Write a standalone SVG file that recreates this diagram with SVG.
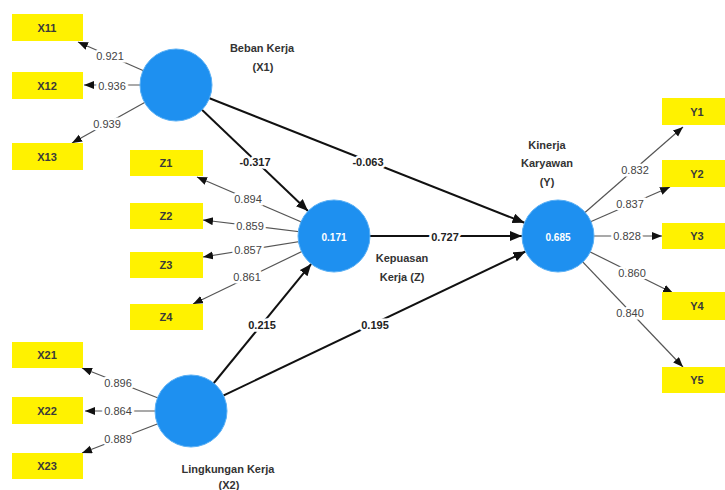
<svg xmlns="http://www.w3.org/2000/svg" width="725" height="490" viewBox="0 0 725 490">
<style>
text{font-family:"Liberation Sans",Arial,sans-serif;}
.box{fill:#FFF200;}
.bt{font-size:11px;font-weight:bold;fill:#3a3a3a;text-anchor:middle;dominant-baseline:central;}
.lv{fill:#1E90F0;stroke:#5AB0F5;stroke-width:1;}
.lvt{font-size:10px;font-weight:bold;fill:#fff;text-anchor:middle;dominant-baseline:central;}
.hd{font-size:11px;font-weight:bold;fill:#333;text-anchor:middle;}
.ld{stroke:#555;stroke-width:1.2;fill:none;}
.st{stroke:#111;stroke-width:2;fill:none;}
.ll{font-size:11px;fill:#444;text-anchor:middle;dominant-baseline:central;stroke:#fff;stroke-width:5;paint-order:stroke;}
.sl{font-size:11px;font-weight:bold;fill:#222;text-anchor:middle;dominant-baseline:central;stroke:#fff;stroke-width:5;paint-order:stroke;}
</style>
<defs>
<marker id="a1" markerUnits="userSpaceOnUse" markerWidth="12" markerHeight="10" refX="10" refY="4" orient="auto"><path d="M0,0 L10,4 L0,8 Z" fill="#111"/></marker>
<marker id="a2" markerUnits="userSpaceOnUse" markerWidth="14" markerHeight="12" refX="12" refY="5" orient="auto"><path d="M0,0 L12,5 L0,10 Z" fill="#111"/></marker>
</defs>
<rect width="725" height="490" fill="#fff"/>
<g id="connectors">
<line class="ld" x1="176" y1="85" x2="78" y2="42" marker-end="url(#a1)"/>
<line class="ld" x1="176" y1="85" x2="84" y2="85" marker-end="url(#a1)"/>
<line class="ld" x1="176" y1="85" x2="72" y2="143" marker-end="url(#a1)"/>
<line class="ld" x1="334" y1="236" x2="197" y2="177" marker-end="url(#a1)"/>
<line class="ld" x1="334" y1="236" x2="203" y2="220" marker-end="url(#a1)"/>
<line class="ld" x1="334" y1="236" x2="203" y2="257" marker-end="url(#a1)"/>
<line class="ld" x1="334" y1="236" x2="193" y2="304" marker-end="url(#a1)"/>
<line class="ld" x1="191" y1="411" x2="82" y2="368" marker-end="url(#a1)"/>
<line class="ld" x1="191" y1="411" x2="85" y2="411" marker-end="url(#a1)"/>
<line class="ld" x1="191" y1="411" x2="82" y2="453" marker-end="url(#a1)"/>
<line class="ld" x1="558" y1="236" x2="683" y2="127" marker-end="url(#a1)"/>
<line class="ld" x1="558" y1="236" x2="670" y2="187" marker-end="url(#a1)"/>
<line class="ld" x1="558" y1="236" x2="662" y2="236" marker-end="url(#a1)"/>
<line class="ld" x1="558" y1="236" x2="673" y2="293" marker-end="url(#a1)"/>
<line class="ld" x1="558" y1="236" x2="683" y2="367" marker-end="url(#a1)"/>
<line class="st" x1="176" y1="85" x2="308" y2="211" marker-end="url(#a2)"/>
<line class="st" x1="176" y1="85" x2="524.5" y2="222.8" marker-end="url(#a2)"/>
<line class="st" x1="334" y1="236" x2="522" y2="236" marker-end="url(#a2)"/>
<line class="st" x1="191" y1="411" x2="311.2" y2="263.9" marker-end="url(#a2)"/>
<line class="st" x1="191" y1="411" x2="525.5" y2="251.5" marker-end="url(#a2)"/>
<text class="ll" x="110" y="56">0.921</text>
<text class="ll" x="112" y="86">0.936</text>
<text class="ll" x="107" y="124">0.939</text>
<text class="ll" x="248" y="199">0.894</text>
<text class="ll" x="250" y="226">0.859</text>
<text class="ll" x="248" y="250">0.857</text>
<text class="ll" x="247" y="277">0.861</text>
<text class="ll" x="118" y="383">0.896</text>
<text class="ll" x="118" y="411">0.864</text>
<text class="ll" x="118" y="439">0.889</text>
<text class="ll" x="635" y="170">0.832</text>
<text class="ll" x="630" y="204">0.837</text>
<text class="ll" x="627" y="236">0.828</text>
<text class="ll" x="632" y="273">0.860</text>
<text class="ll" x="630" y="313">0.840</text>
<text class="sl" x="255" y="162">-0.317</text>
<text class="sl" x="368" y="162">-0.063</text>
<text class="sl" x="445" y="237">0.727</text>
<text class="sl" x="262" y="325">0.215</text>
<text class="sl" x="375" y="325">0.195</text>
</g>
<g id="X11"><rect class="box" x="12" y="14" width="71" height="27"/><text class="bt" x="47" y="28">X11</text></g>
<g id="X12"><rect class="box" x="12" y="72" width="71" height="27"/><text class="bt" x="47" y="86">X12</text></g>
<g id="X13"><rect class="box" x="12" y="143" width="71" height="27"/><text class="bt" x="47" y="157">X13</text></g>
<g id="Z1"><rect class="box" x="130" y="150" width="73" height="26"/><text class="bt" x="166" y="163">Z1</text></g>
<g id="Z2"><rect class="box" x="130" y="203" width="73" height="26"/><text class="bt" x="166" y="216">Z2</text></g>
<g id="Z3"><rect class="box" x="130" y="252" width="73" height="26"/><text class="bt" x="166" y="265">Z3</text></g>
<g id="Z4"><rect class="box" x="130" y="304" width="73" height="26"/><text class="bt" x="166" y="317">Z4</text></g>
<g id="X21"><rect class="box" x="12" y="342" width="71" height="26"/><text class="bt" x="47" y="355">X21</text></g>
<g id="X22"><rect class="box" x="12" y="397" width="71" height="27"/><text class="bt" x="47" y="411">X22</text></g>
<g id="X23"><rect class="box" x="12" y="453" width="71" height="26"/><text class="bt" x="47" y="466">X23</text></g>
<g id="Y1"><rect class="box" x="662" y="98" width="72" height="27"/><text class="bt" x="697" y="112">Y1</text></g>
<g id="Y2"><rect class="box" x="662" y="160" width="72" height="27"/><text class="bt" x="697" y="174">Y2</text></g>
<g id="Y3"><rect class="box" x="662" y="223" width="72" height="26"/><text class="bt" x="697" y="236">Y3</text></g>
<g id="Y4"><rect class="box" x="662" y="292" width="72" height="28"/><text class="bt" x="697" y="306">Y4</text></g>
<g id="Y5"><rect class="box" x="662" y="367" width="72" height="26"/><text class="bt" x="697" y="380">Y5</text></g>
<g id="X1"><circle class="lv" cx="176" cy="85" r="36"/><text class="hd" x="262" y="52">Beban Kerja</text><text class="hd" x="263" y="71">(X1)</text></g>
<g id="Z"><circle class="lv" cx="334" cy="236" r="36"/><text class="lvt" x="334" y="237">0.171</text><text class="hd" x="402" y="262">Kepuasan</text><text class="hd" x="402" y="281">Kerja (Z)</text></g>
<g id="X2"><circle class="lv" cx="191" cy="411" r="36"/><text class="hd" x="228" y="473">Lingkungan Kerja</text><text class="hd" x="229" y="489">(X2)</text></g>
<g id="Y"><circle class="lv" cx="558" cy="236" r="36"/><text class="lvt" x="558" y="237">0.685</text><text class="hd" x="547" y="149">Kinerja</text><text class="hd" x="547" y="167">Karyawan</text><text class="hd" x="547" y="186">(Y)</text></g>
</svg>
